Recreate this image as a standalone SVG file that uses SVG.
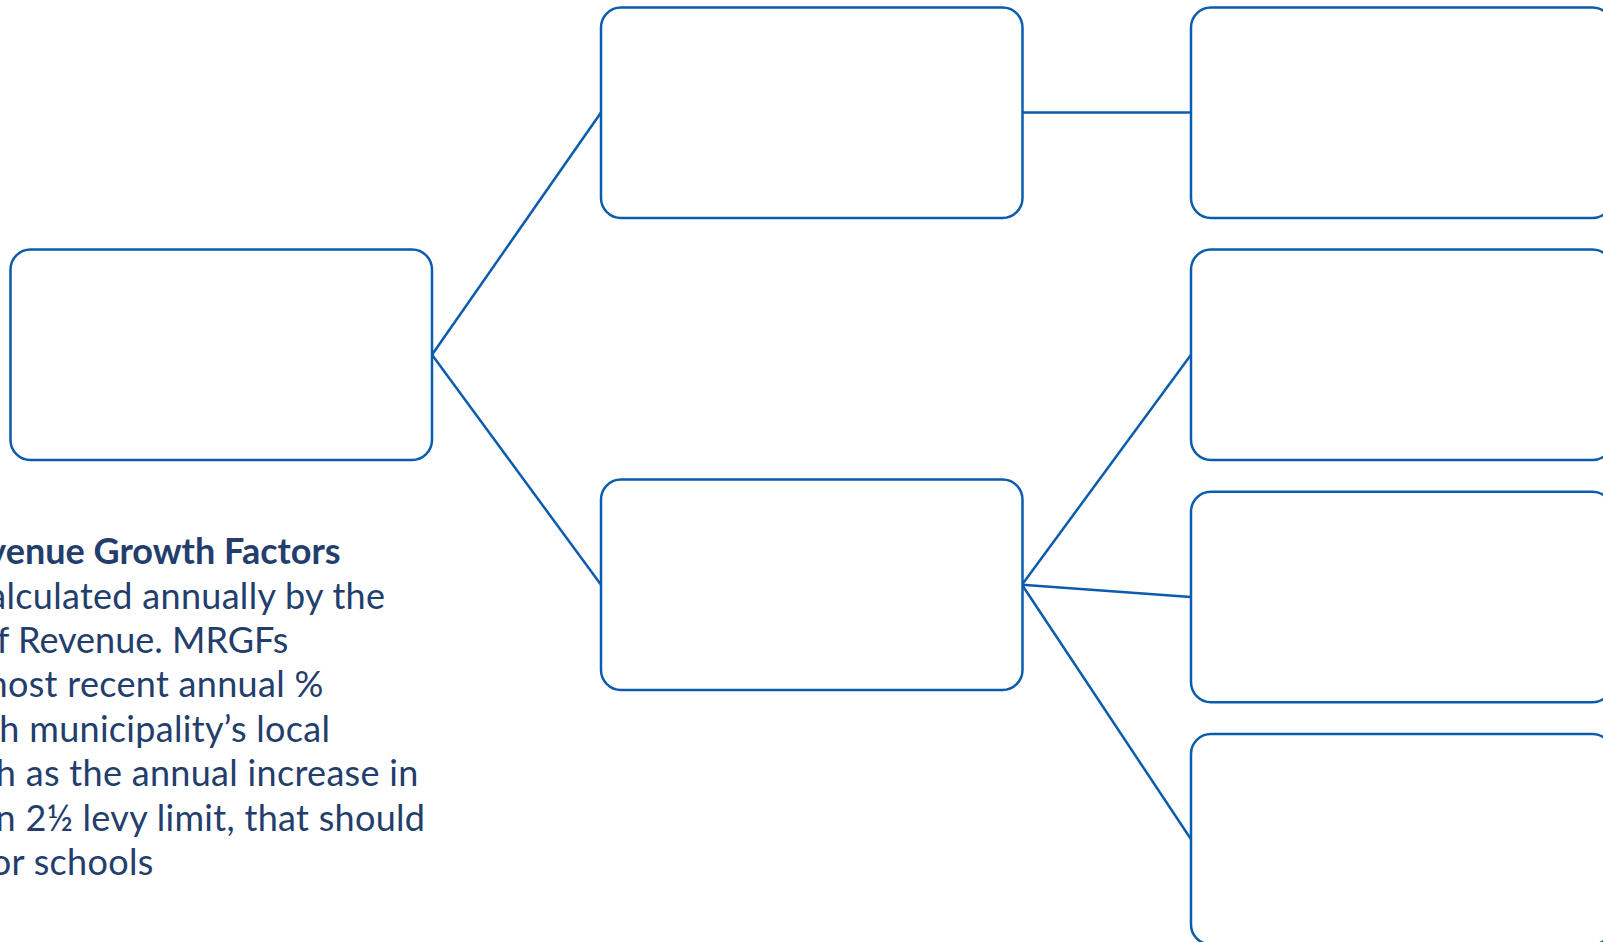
<svg xmlns="http://www.w3.org/2000/svg" width="1603" height="942" viewBox="0 0 1603 942">
<style>
.box{fill:#ffffff;stroke:#0b5cad;stroke-width:2.5}
.conn{stroke:#0b5cad;stroke-width:2.5;fill:none}
.t{font-family:Lato,"Noto Sans",sans-serif;font-size:36px;fill:#233e6c;text-anchor:end;letter-spacing:0.3px}
.b{font-weight:bold;letter-spacing:0}
.n{letter-spacing:0}
</style>
<rect width="1603" height="942" fill="#ffffff"/>
<g id="connectors">
<line class="conn" x1="432" y1="354.7" x2="601" y2="112.5"/>
<line class="conn" x1="432" y1="354.7" x2="601" y2="584.8"/>
<line class="conn" x1="1022" y1="112.5" x2="1191" y2="112.5"/>
<line class="conn" x1="1022" y1="584.8" x2="1191" y2="354.7"/>
<line class="conn" x1="1022" y1="584.8" x2="1191" y2="597"/>
<line class="conn" x1="1022" y1="584.8" x2="1191" y2="839.3"/>
</g>
<g id="node-root"><rect class="box" x="10.5" y="249.5" width="421.5" height="210.5" rx="20"/></g>
<g id="node-mid-top"><rect class="box" x="601" y="7.5" width="421.5" height="210.5" rx="20"/></g>
<g id="node-mid-bottom"><rect class="box" x="601" y="479.5" width="421.5" height="210.5" rx="20"/></g>
<g id="node-right-1"><rect class="box" x="1191" y="7.5" width="421.5" height="210.5" rx="20"/></g>
<g id="node-right-2"><rect class="box" x="1191" y="249.5" width="421.5" height="210.5" rx="20"/></g>
<g id="node-right-3"><rect class="box" x="1191" y="491.8" width="421.5" height="210.5" rx="20"/></g>
<g id="node-right-4"><rect class="box" x="1191" y="734" width="421.5" height="210.5" rx="20"/></g>
<g id="note">
<text class="t b" x="340.7" y="564.3">venue Growth Factors</text>
<text class="t" x="385.3" y="608.5">alculated annually by the</text>
<text class="t n" x="288.3" y="653">f Revenue. MRGFs</text>
<text class="t" x="323.6" y="697">most recent annual %</text>
<text class="t" x="330.3" y="741.5">h municipality’s local</text>
<text class="t" x="418.6" y="786">h as the annual increase in</text>
<text class="t" x="425.3" y="830.5">n 2½ levy limit, that should</text>
<text class="t" x="153.6" y="875">or schools</text>
</g>
</svg>
